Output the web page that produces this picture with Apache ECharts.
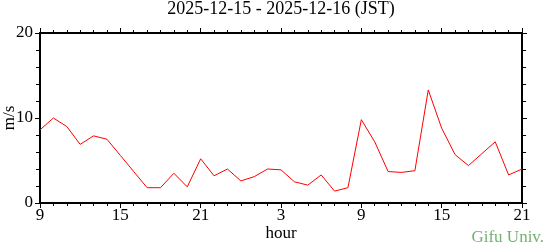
<!DOCTYPE html>
<html>
<head>
<meta charset="utf-8">
<script src="https://cdn.jsdelivr.net/npm/echarts@6/dist/echarts.min.js"></script>
<style>
html,body{margin:0;padding:0;background:#fff;}
#chart{width:544px;height:246px;}
</style>
</head>
<body>
<div id="chart"></div>
<script>
// Hours elapsed since 2025-12-15 09:00 JST
var hours = [0,1,2,3,4,5,6,7,8,9,10,11,12,13,14,15,16,17,18,19,20,21,22,23,24,25,26,27,28,29,30,31,32,33,34,35,36];
// Wind speed (m/s)
var speed = [8.6,10.0,9.0,6.9,7.9,7.5,5.6,3.7,1.8,1.8,3.5,1.9,5.2,3.2,4.0,2.6,3.1,4.0,3.9,2.5,2.1,3.3,1.4,1.8,9.8,7.2,3.7,3.6,3.8,13.3,8.8,5.7,4.4,5.8,7.2,3.3,4.0];
var startHour = 9;
var titleText = '2025-12-15 - 2025-12-16 (JST)';
var xName = 'hour';
var yName = 'm/s';
var credit = 'Gifu Univ.';

var FONT = '"Liberation Serif", "DejaVu Serif", serif';
var chart = echarts.init(document.getElementById('chart'), null, {renderer: 'canvas'});

function xAxisBase(pos, showLabel) {
  return {
    type: 'value', position: pos, min: 0, max: 36, interval: 6,
    axisLine: {show: true, onZero: false, lineStyle: {color: '#000', width: 2}},
    axisTick: {show: true, inside: false, length: 5, lineStyle: {color: '#000', width: 1}},
    minorTick: {show: true, splitNumber: 6, length: 3, lineStyle: {color: '#000', width: 1}},
    splitLine: {show: false}, minorSplitLine: {show: false},
    axisLabel: {show: showLabel, margin: 4, color: '#000', fontFamily: FONT, fontSize: 17,
      formatter: function (v) { return String((startHour + v) % 24); }},
    name: showLabel ? xName : '', nameLocation: 'middle', nameGap: 22, nameMoveOverlap: false,
    nameTextStyle: {color: '#000', fontFamily: FONT, fontSize: 17}
  };
}
function yAxisBase(pos, showLabel) {
  return {
    type: 'value', position: pos, min: 0, max: 20, interval: 10,
    axisLine: {show: true, onZero: false, lineStyle: {color: '#000', width: 2}},
    axisTick: {show: true, inside: false, length: 5, lineStyle: {color: '#000', width: 1}},
    minorTick: {show: true, splitNumber: 5, length: 4, lineStyle: {color: '#000', width: 1}},
    splitLine: {show: false}, minorSplitLine: {show: false},
    axisLabel: {show: showLabel, margin: 7, color: '#000', fontFamily: FONT, fontSize: 17},
    name: showLabel ? yName : '', nameLocation: 'middle', nameGap: 22, nameRotate: 90, nameMoveOverlap: false,
    nameTextStyle: {color: '#000', fontFamily: FONT, fontSize: 17}
  };
}

chart.setOption({
  animation: false,
  backgroundColor: '#fff',
  grid: {left: 40, right: 22, top: 33, bottom: 43, containLabel: false, outerBoundsMode: 'none'},
  xAxis: [xAxisBase('bottom', true), xAxisBase('top', false)],
  yAxis: [yAxisBase('left', true), yAxisBase('right', false)],
  series: [{
    type: 'line', xAxisIndex: 0, yAxisIndex: 0,
    data: hours.map(function (h, i) { return [h, speed[i]]; }),
    showSymbol: false, symbol: 'none',
    lineStyle: {color: '#ff0000', width: 1}, itemStyle: {color: '#ff0000'}
  }],
  graphic: [
    {type: 'text', x: 281, y: 9, style: {text: titleText, font: '18px ' + FONT, fill: '#000', textAlign: 'center', textVerticalAlign: 'middle'}},
    {type: 'text', right: 0, bottom: 0, style: {text: credit, font: '17px ' + FONT, fill: '#74b074'}}
  ]
});
</script>
</body>
</html>
